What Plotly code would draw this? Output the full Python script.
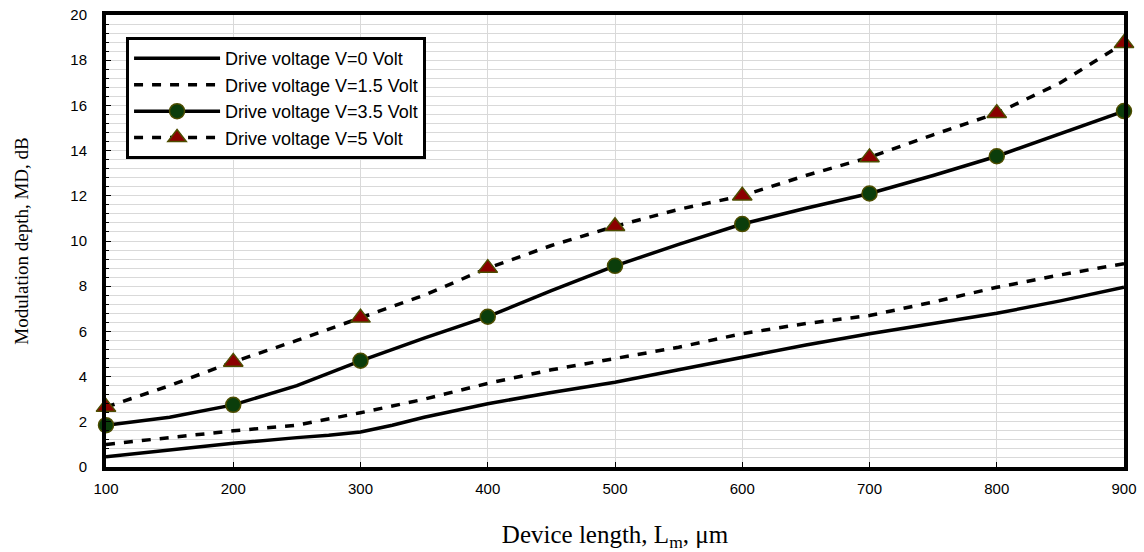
import plotly.graph_objects as go

x_line = [100, 150, 200, 250, 275, 300, 325, 350, 375, 400, 450, 500, 550, 600, 650, 700, 750, 800, 850, 900]
v0 = [0.45, 0.75, 1.05, 1.3, 1.4, 1.55, 1.85, 2.2, 2.5, 2.8, 3.3, 3.75, 4.3, 4.85, 5.4, 5.9, 6.35, 6.8, 7.35, 7.95]

x_half = [100, 150, 200, 250, 300, 350, 400, 450, 500, 550, 600, 650, 700, 750, 800, 850, 900]
v15 = [1.0, 1.3, 1.6, 1.85, 2.4, 3.0, 3.7, 4.3, 4.8, 5.3, 5.9, 6.35, 6.7, 7.3, 7.95, 8.5, 9.0]
v35 = [1.85, 2.2, 2.75, 3.6, 4.7, 5.7, 6.65, 7.8, 8.9, 9.85, 10.75, 11.45, 12.1, 12.9, 13.75, 14.75, 15.75]
v5 = [2.65, 3.6, 4.65, 5.6, 6.6, 7.6, 8.8, 9.8, 10.65, 11.4, 12.0, 12.9, 13.7, 14.7, 15.65, 17.0, 18.75]

x_mark = [100, 200, 300, 400, 500, 600, 700, 800, 900]
v35_mark = [1.85, 2.75, 4.7, 6.65, 8.9, 10.75, 12.1, 13.75, 15.75]
v5_mark = [2.65, 4.65, 6.6, 8.8, 10.65, 12.0, 13.7, 15.65, 18.75]

names = ["Drive voltage V=0 Volt", "Drive voltage V=1.5 Volt",
         "Drive voltage V=3.5 Volt", "Drive voltage V=5 Volt"]

LW = 3.5
DASH = "9px,9px"
circ = dict(symbol="circle", size=15, color="#0b3d0b", line=dict(color="#4d4d00", width=1.5))
tri = dict(symbol="triangle-up", size=17, color="#8b0000", line=dict(color="#4d4d00", width=1.5))

fig = go.Figure()
fig.add_trace(go.Scatter(x=x_line, y=v0, mode="lines", name=names[0],
                         line=dict(color="black", width=LW)))
fig.add_trace(go.Scatter(x=x_half, y=v15, mode="lines", name=names[1],
                         line=dict(color="black", width=LW, dash=DASH)))
# V=3.5 line + markers
fig.add_trace(go.Scatter(x=x_half, y=v35, mode="lines", showlegend=False,
                         line=dict(color="black", width=LW)))
fig.add_trace(go.Scatter(x=x_mark, y=v35_mark, mode="markers", showlegend=False,
                         marker=circ, cliponaxis=False))
fig.add_trace(go.Scatter(x=[None], y=[None], mode="lines+markers", name=names[2],
                         line=dict(color="black", width=LW), marker=circ))
# V=5 line + markers
fig.add_trace(go.Scatter(x=x_half, y=v5, mode="lines", showlegend=False,
                         line=dict(color="black", width=LW, dash=DASH)))
fig.add_trace(go.Scatter(x=x_mark, y=v5_mark, mode="markers", showlegend=False,
                         marker=tri, cliponaxis=False))
fig.add_trace(go.Scatter(x=[None], y=[None], mode="lines+markers", name=names[3],
                         line=dict(color="black", width=LW, dash=DASH), marker=tri))

fig.update_layout(
    width=1144, height=552,
    margin=dict(l=106, r=20, t=15, b=85),
    paper_bgcolor="white", plot_bgcolor="white",
    font=dict(family="Liberation Sans, Arial", size=15, color="black"),
    showlegend=True,
    legend=dict(x=0.0197, y=0.951, xanchor="left", yanchor="top",
                bgcolor="white", bordercolor="black", borderwidth=3,
                font=dict(family="Liberation Sans, Arial", size=18, color="black"),
                itemwidth=86, tracegroupgap=0, traceorder="normal"),
    xaxis=dict(range=[100, 900], dtick=100, tick0=100, automargin=False,
               showgrid=True, gridcolor="#d9d9d9", gridwidth=1,
               showline=True, linecolor="black", linewidth=4, mirror=True,
               ticks="inside", ticklen=5, tickcolor="black", tickwidth=1,
               zeroline=False, ticklabelstandoff=5,
               tickfont=dict(family="Liberation Sans, Arial", size=15),
               title=dict(text="Device length, L<sub>m</sub>, μm",
                          font=dict(family="Liberation Serif, Times New Roman", size=25),
                          standoff=32)),
    yaxis=dict(range=[0, 20], dtick=2, tick0=0, automargin=False,
               showgrid=True, gridcolor="#d9d9d9", gridwidth=1,
               minor=dict(dtick=0.4, showgrid=True, gridcolor="#d9d9d9", gridwidth=1,
                          ticks="inside", ticklen=3, tickcolor="black"),
               showline=True, linecolor="black", linewidth=4, mirror=True,
               ticks="inside", ticklen=5, tickcolor="black", tickwidth=1,
               zeroline=False, ticklabelstandoff=12,
               tickfont=dict(family="Liberation Sans, Arial", size=15),
               title=dict(text="Modulation depth, MD, dB",
                          font=dict(family="Liberation Serif, Times New Roman", size=19),
                          standoff=38)),
)

fig.write_html("out.html")
